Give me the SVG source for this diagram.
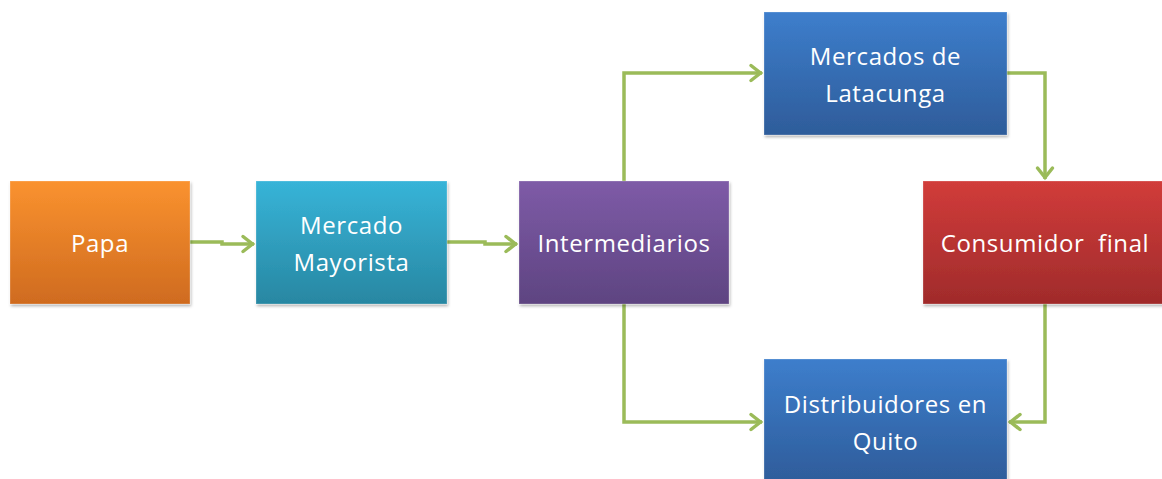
<svg xmlns="http://www.w3.org/2000/svg" width="1162" height="479" viewBox="0 0 1162 479">
<defs>
<linearGradient id="gOr" x1="0" y1="0" x2="0" y2="1"><stop offset="0" stop-color="#FA922F"/><stop offset="1" stop-color="#CF6B1F"/></linearGradient>
<linearGradient id="gCy" x1="0" y1="0" x2="0" y2="1"><stop offset="0" stop-color="#37B4D8"/><stop offset="1" stop-color="#2887A2"/></linearGradient>
<linearGradient id="gPu" x1="0" y1="0" x2="0" y2="1"><stop offset="0" stop-color="#7E5BA7"/><stop offset="1" stop-color="#5E4481"/></linearGradient>
<linearGradient id="gBl" x1="0" y1="0" x2="0" y2="1"><stop offset="0" stop-color="#3D7ECC"/><stop offset="1" stop-color="#2E5C9A"/></linearGradient>
<linearGradient id="gRd" x1="0" y1="0" x2="0" y2="1"><stop offset="0" stop-color="#D13C3A"/><stop offset="1" stop-color="#A02B2B"/></linearGradient>
<filter id="sh" x="-10%" y="-10%" width="125%" height="130%">
<feDropShadow dx="1" dy="2" stdDeviation="1.5" flood-color="#000" flood-opacity="0.3"/>
</filter>
<marker id="ah" markerUnits="userSpaceOnUse" viewBox="-14 -10 16 20" refX="0" refY="0" markerWidth="16" markerHeight="20" orient="auto">
<path d="M-11,-7.5 L-1.5,0 L-11,7.5" fill="none" stroke="#9BBB59" stroke-width="3.5" stroke-linecap="round" stroke-linejoin="miter"/>
</marker>
</defs>
<style>
.box{stroke:#ffffff;stroke-opacity:0.25;stroke-width:1;filter:url(#sh)}
.t{font-family:"Open Sans","Liberation Sans",sans-serif;font-size:24px;fill:#ffffff;text-anchor:middle;letter-spacing:0.6px}
.c{fill:none;stroke:#9BBB59;stroke-width:3.5;marker-end:url(#ah)}
</style>
<rect width="1162" height="479" fill="#ffffff"/>
<g id="connectors">
<path class="c" d="M190,242 H222 V244 H254"/>
<path class="c" d="M447,242 H485 V244 H517"/>
<path class="c" d="M624,181 V73 H762"/>
<path class="c" d="M1007,73 H1045 V179"/>
<path class="c" d="M624,304 V422 H762"/>
<path class="c" d="M1045,304 V422 H1009"/>
</g>
<g id="papa">
<rect class="box" x="10" y="181" width="180" height="123" fill="url(#gOr)"/>
<text class="t" x="100" y="252">Papa</text>
</g>
<g id="mercado-mayorista">
<rect class="box" x="256" y="181" width="191" height="123" fill="url(#gCy)"/>
<text class="t" x="351.5" y="234">Mercado</text>
<text class="t" x="351.5" y="271">Mayorista</text>
</g>
<g id="intermediarios">
<rect class="box" x="519" y="181" width="210" height="123" fill="url(#gPu)"/>
<text class="t" x="624" y="252">Intermediarios</text>
</g>
<g id="mercados-latacunga">
<rect class="box" x="764" y="12" width="243" height="123" fill="url(#gBl)"/>
<text class="t" x="885.5" y="65">Mercados de</text>
<text class="t" x="885.5" y="102">Latacunga</text>
</g>
<g id="consumidor-final">
<rect class="box" x="923" y="181" width="244" height="123" fill="url(#gRd)"/>
<text class="t" x="1045" y="252" xml:space="preserve">Consumidor  final</text>
</g>
<g id="distribuidores-quito">
<rect class="box" x="764" y="359" width="243" height="124" fill="url(#gBl)"/>
<text class="t" x="885.5" y="413">Distribuidores en</text>
<text class="t" x="885.5" y="450">Quito</text>
</g>
</svg>
